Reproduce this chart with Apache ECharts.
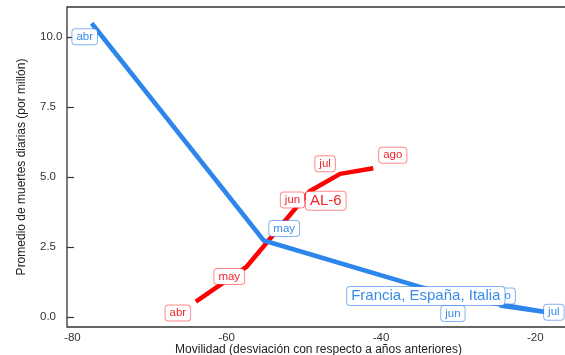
<!DOCTYPE html>
<html><head><meta charset="utf-8">
<script src="https://cdn.jsdelivr.net/npm/echarts@6/dist/echarts.min.js"></script>
<style>html,body{margin:0;padding:0;background:#fff}#c{width:565px;height:355px}</style>
</head><body><div id="c"></div>
<script>
// ---- data ----
const months = ['abr', 'may', 'jun', 'jul', 'ago'];
const fesName = 'Francia, España, Italia';
const fesMobility = [-77.5, -55.2, -31.0, -18.5, -24.6];
const fesDeaths = [10.5, 2.74, 0.76, 0.18, 0.42];
const al6Name = 'AL-6';
const al6Mobility = [-64.0, -57.4, -49.2, -45.3, -41.0];
const al6Deaths = [0.56, 1.81, 4.51, 5.12, 5.32];
const xTicks = [-80, -60, -40, -20];
const yTicks = [0, 2.5, 5, 7.5, 10];

// ---- styling ----
const BLUE = '#2d86ec';
const RED = '#ff0000';
const FONT = '"Liberation Sans", Arial, sans-serif';
const fesOffsets = [[-7, 13.5], [20.5, -12], [2.5, 17.5], [7, 0], [1.5, -9.5]];
const al6Offsets = [[-18, 11.5], [-17.5, 10], [-17.5, 9], [-15, -10], [19.5, -13]];

function pts(xs, ys) { return xs.map((x, i) => [x, ys[i]]); }

function monthLabels(xs, ys, offsets, color, border) {
  return {
    type: 'scatter', symbolSize: 0, silent: true, z: 5,
    itemStyle: { opacity: 1 },
    data: xs.map((x, i) => ({
      value: [x, ys[i]], name: months[i],
      label: { offset: offsets[i] }
    })),
    label: {
      show: true, position: 'inside', formatter: p => p.name,
      color: color, fontFamily: FONT, fontSize: 11.5,
      backgroundColor: '#fff', borderColor: border, borderWidth: 1,
      borderRadius: 3, padding: [2, 4, 1, 4]
    }
  };
}
function nameLabel(xs, ys, name, offset, color, border) {
  const i = xs.length - 1;
  return {
    type: 'scatter', symbolSize: 0, silent: true, z: 6,
    itemStyle: { opacity: 1 },
    data: [{ value: [xs[i], ys[i]], name: name }],
    label: {
      show: true, position: 'inside', formatter: name, offset: offset,
      color: color, fontFamily: FONT, fontSize: 15,
      backgroundColor: '#fff', borderColor: border, borderWidth: 1,
      borderRadius: 3, padding: [2, 4, 1, 4]
    }
  };
}

const chart = echarts.init(document.getElementById('c'), null, { renderer: 'canvas' });
chart.setOption({
  animation: false,
  backgroundColor: '#fff',
  grid: { left: 67, top: 7, width: 503, height: 320, outerBoundsMode: 'none', containLabel: false,
          show: true, borderColor: '#333', borderWidth: 1.3, backgroundColor: 'transparent' },
  xAxis: {
    type: 'value', min: -80.7, max: -15.5,
    name: 'Movilidad (desviación con respecto a años anteriores)',
    nameLocation: 'middle', nameGap: 17, nameMoveOverlap: false,
    nameTextStyle: { color: '#222', fontFamily: FONT, fontSize: 12 },
    axisLine: { show: false }, axisTick: { show: false }, splitLine: { show: false },
    axisLabel: { customValues: xTicks, color: '#333', fontFamily: FONT, fontSize: 11.5, margin: 5, formatter: v => String(v) }
  },
  yAxis: {
    type: 'value', min: -0.35, max: 11.08,
    name: 'Promedio de muertes diarias (por millón)',
    nameLocation: 'middle', nameGap: 39, nameMoveOverlap: false,
    nameTextStyle: { color: '#222', fontFamily: FONT, fontSize: 12 },
    axisLine: { show: false }, splitLine: { show: false },
    axisTick: { show: true, inside: true, length: 7, customValues: yTicks, lineStyle: { color: '#333', width: 1.2 } },
    axisLabel: { customValues: yTicks, color: '#333', fontFamily: FONT, fontSize: 11.5, margin: 27, align: 'left', formatter: v => v.toFixed(1) }
  },
  series: [
    { type: 'line', name: al6Name, data: pts(al6Mobility, al6Deaths), symbol: 'none', z: 2,
      lineStyle: { color: RED, width: 4.5, cap: 'butt', join: 'round' } },
    { type: 'line', name: fesName, data: pts(fesMobility, fesDeaths), symbol: 'none', z: 3,
      lineStyle: { color: BLUE, width: 4.5, cap: 'butt', join: 'round' } },
    monthLabels(al6Mobility, al6Deaths, al6Offsets, '#f0262b', 'rgba(255,60,60,0.6)'),
    monthLabels(fesMobility, fesDeaths, fesOffsets, '#3b8ae8', 'rgba(70,140,235,0.65)'),
    nameLabel(al6Mobility, al6Deaths, al6Name, [-47.5, 32.5], '#f0262b', 'rgba(255,60,60,0.6)'),
    nameLabel(fesMobility, fesDeaths, fesName, [-74, -9.5], '#3b8ae8', 'rgba(70,140,235,0.65)')
  ]
});
</script>
</body></html>
